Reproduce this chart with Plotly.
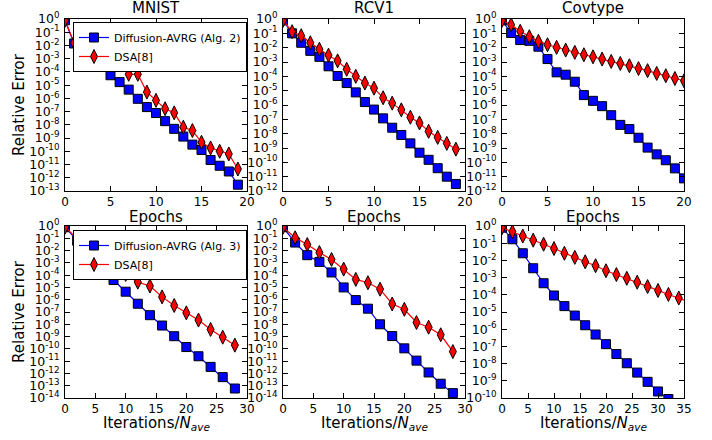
import plotly.graph_objects as go

# ---------------- data ----------------
titles = ["MNIST", "RCV1", "Covtype"]

# top row: x = epochs
mnist_x = list(range(20))
mnist_avrg = [0.8, 1.4e-2, 4e-3, 8.9e-4, 3.2e-4, 5.6e-5, 1.7e-5, 4.6e-6, 9.3e-7, 2.2e-7,
              7.8e-8, 1.9e-8, 5.0e-9, 1.3e-9, 3.2e-10, 1.26e-10, 2.2e-11, 8.1e-12, 3.0e-12, 3.0e-13]
mnist_dsa = [0.8, 1.6e-2, 7.9e-3, 4.0e-3, 2.0e-3, 1.26e-3, 7.9e-4, 6.6e-5, 6.6e-5, 3.0e-6,
             7.1e-7, 1.66e-7, 8.1e-8, 6.6e-9, 3.7e-9, 4.8e-10, 1.8e-10, 1.0e-10, 6.3e-11, 4.6e-12]

rcv1_x = list(range(20))
rcv1_avrg = [0.8, 1.0e-1, 2.2e-2, 6.0e-3, 2.3e-3, 5.0e-4, 1.05e-4, 3.4e-5, 7.6e-6, 1.6e-6,
             4.8e-7, 1.17e-7, 2.6e-8, 8.1e-9, 2.1e-9, 4.7e-10, 1.5e-10, 3.9e-11, 1.0e-11, 3.1e-12]
rcv1_dsa = [0.8, 1.3e-1, 6.8e-2, 2.2e-2, 7.8e-3, 3.0e-3, 1.2e-3, 3.1e-4, 1.0e-4, 3.4e-5,
            1.5e-5, 3.2e-6, 1.35e-6, 4.6e-7, 1.4e-7, 5.6e-8, 1.45e-8, 5.5e-9, 2.1e-9, 8.3e-10]

cov_x = list(range(21))
cov_avrg = [0.8, 1.05e-1, 3.4e-2, 3.0e-2, 1.17e-2, 1.6e-3, 1.9e-4, 1.3e-4, 4.2e-5, 4.9e-6,
            1.95e-6, 8.3e-7, 1.95e-7, 4.1e-8, 2.1e-8, 5.2e-9, 1.07e-9, 3.6e-10, 1.4e-10, 3.8e-11, 7.6e-12]
cov_dsa = [0.8, 4.0e-1, 1.4e-1, 5.8e-2, 2.75e-2, 1.6e-2, 1.05e-2, 6.8e-3, 4.7e-3, 3.2e-3,
           2.3e-3, 1.6e-3, 1.1e-3, 7.9e-4, 5.5e-4, 3.5e-4, 2.5e-4, 1.6e-4, 1.1e-4, 7.1e-5, 4.9e-5]

# bottom row: x = iterations / N_ave
bl_x = list(range(0, 30, 2))
bl_avrg = [0.8, 6.3e-2, 5.0e-3, 4.5e-4, 4.0e-5, 4.5e-6, 4.7e-7, 5.5e-8, 7.9e-9, 1.07e-9,
           1.4e-10, 2.5e-11, 3.4e-12, 5.0e-13, 5.9e-14]
bl_dsa = [0.8, 1.0e-1, 1.26e-2, 2.0e-3, 4.8e-4, 1.15e-4, 2.7e-5, 1.3e-5, 1.7e-6, 3.4e-7,
          8.5e-8, 2.2e-8, 3.8e-9, 8.9e-10, 2.0e-10]

bm_x = list(range(0, 30, 2))
bm_avrg = [0.8, 4.5e-2, 4.2e-3, 1.2e-3, 1.66e-4, 1.0e-5, 9.3e-7, 1.86e-7, 1.0e-8, 1.1e-9,
           1.1e-10, 1.1e-11, 1.2e-12, 1.45e-13, 2.5e-14]
bm_dsa = [0.8, 1.1e-1, 3.1e-2, 6.9e-3, 1.9e-3, 3.1e-4, 4.5e-5, 2.4e-5, 7.2e-6, 4.5e-7,
          1.66e-7, 1.4e-8, 5.8e-9, 1.4e-9, 6.0e-11]

br_x_avrg = list(range(0, 36, 2))
br_avrg = [0.8, 1.7e-1, 2.6e-2, 3.5e-3, 4.7e-4, 9.1e-5, 2.2e-5, 6.2e-6, 1.7e-6, 4.9e-7,
           1.35e-7, 3.6e-8, 1.05e-8, 3.0e-9, 8.7e-10, 2.4e-10, 8.7e-11, 2.5e-11]
br_x_dsa = list(range(0, 38, 2))
br_dsa = [0.8, 4.7e-1, 2.6e-1, 1.5e-1, 8.7e-2, 4.9e-2, 2.6e-2, 1.5e-2, 8.3e-3, 4.9e-3,
          2.5e-3, 1.5e-3, 9.1e-4, 5.4e-4, 3.0e-4, 1.8e-4, 1.05e-4, 6.5e-5, 3.8e-5]

x_ranges = [[0, 20], [0, 20], [0, 20], [0, 30], [0, 30], [0, 35]]
y_min_exp = [-13, -12, -12, -14, -14, -10]

legend_top = ["Diffusion-AVRG (Alg. 2)", "DSA[8]"]
legend_bot = ["Diffusion-AVRG (Alg. 3)", "DSA[8]"]

# ---------------- figure ----------------
W, H = 712, 440
FONT = "DejaVu Sans"
col_px = [(65, 247), (283, 465), (502, 684)]   # window pixels
row_px = [(19, 191), (226, 398)]


def xd(p):
    return p / W


def yd(p):
    return 1 - p / H


panels = [
    (mnist_x, mnist_avrg, mnist_x, mnist_dsa),
    (rcv1_x, rcv1_avrg, rcv1_x, rcv1_dsa),
    (cov_x, cov_avrg, cov_x, cov_dsa),
    (bl_x, bl_avrg, bl_x, bl_dsa),
    (bm_x, bm_avrg, bm_x, bm_dsa),
    (br_x_avrg, br_avrg, br_x_dsa, br_dsa),
]

fig = go.Figure()
layout = dict(
    width=W, height=H, margin=dict(l=0, r=0, t=0, b=0),
    paper_bgcolor="white", plot_bgcolor="white",
    font=dict(family=FONT, color="black"),
    showlegend=True,
)

for i, (xa, ya, xb, yb) in enumerate(panels):
    r, c = divmod(i, 3)
    n = i + 1
    xs = "x" if n == 1 else f"x{n}"
    ys = "y" if n == 1 else f"y{n}"
    names = legend_top if r == 0 else legend_bot
    leg = "legend" if r == 0 else "legend2"
    show = (c == 0)
    fig.add_trace(go.Scatter(
        x=xa, y=ya, xaxis=xs, yaxis=ys, mode="lines+markers", name=names[0],
        line=dict(color="#0000ff", width=1.2),
        marker=dict(symbol="square", size=9, color="#0000ff",
                    line=dict(color="black", width=1)),
        showlegend=show, legend=leg))
    fig.add_trace(go.Scatter(
        x=xb, y=yb, xaxis=xs, yaxis=ys, mode="lines+markers", name=names[1],
        line=dict(color="#ff0000", width=1.2),
        marker=dict(symbol="diamond-tall", size=10, color="#ff0000",
                    line=dict(color="black", width=1)),
        showlegend=show, legend=leg))

    lo = y_min_exp[i]
    tv = [10.0 ** k for k in range(lo, 1)]
    tt = [f"10<sup>{k}</sup>" for k in range(lo, 1)]
    common = dict(showline=True, linecolor="black", linewidth=1, mirror="ticks",
                  ticks="inside", ticklen=5, tickcolor="black", tickwidth=1,
                  showgrid=False, zeroline=False, automargin=False)
    xkey = "xaxis" if n == 1 else f"xaxis{n}"
    ykey = "yaxis" if n == 1 else f"yaxis{n}"
    layout[xkey] = dict(common, domain=[xd(col_px[c][0]), xd(col_px[c][1])],
                        anchor=ys, range=x_ranges[i], dtick=5, tick0=0,
                        tickfont=dict(size=12, family=FONT))
    layout[ykey] = dict(common, domain=[yd(row_px[r][1]), yd(row_px[r][0])],
                        anchor=xs, type="log", range=[lo, 0],
                        tickvals=tv, ticktext=tt, ticklabelstandoff=2,
                        tickfont=dict(size=12.5, family=FONT))

legend_style = dict(bgcolor="white", bordercolor="black", borderwidth=1,
                    font=dict(size=11, family=FONT), xanchor="left", yanchor="top",
                    tracegroupgap=0, itemwidth=30)
layout["legend"] = dict(legend_style, x=xd(73), y=yd(22))
layout["legend2"] = dict(legend_style, x=xd(73), y=yd(230))

annotations = []
for c in range(3):
    cx = xd((col_px[c][0] + col_px[c][1]) / 2)
    annotations.append(dict(text=titles[c], x=cx, y=yd(19), xref="paper", yref="paper",
                            xanchor="center", yanchor="bottom", showarrow=False,
                            font=dict(size=15, family=FONT)))
    annotations.append(dict(text="Epochs", x=cx, y=yd(217), xref="paper", yref="paper",
                            xanchor="center", yanchor="middle", showarrow=False,
                            font=dict(size=15, family=FONT)))
    annotations.append(dict(text="Iterations/<i>N</i><sub><i>ave</i></sub>", x=cx, y=yd(423),
                            xref="paper", yref="paper", xanchor="center", yanchor="middle",
                            showarrow=False, font=dict(size=15, family=FONT)))
for r in range(2):
    cy = yd((row_px[r][0] + row_px[r][1]) / 2)
    annotations.append(dict(text="Relative Error", x=xd(19), y=cy, xref="paper", yref="paper",
                            xanchor="center", yanchor="middle", textangle=-90, showarrow=False,
                            font=dict(size=15, family=FONT)))
layout["annotations"] = annotations

fig.update_layout(**layout)
fig.write_html("out.html", config={"displayModeBar": False},
               post_script="document.body.style.margin='0px';document.body.style.overflow='hidden';")
